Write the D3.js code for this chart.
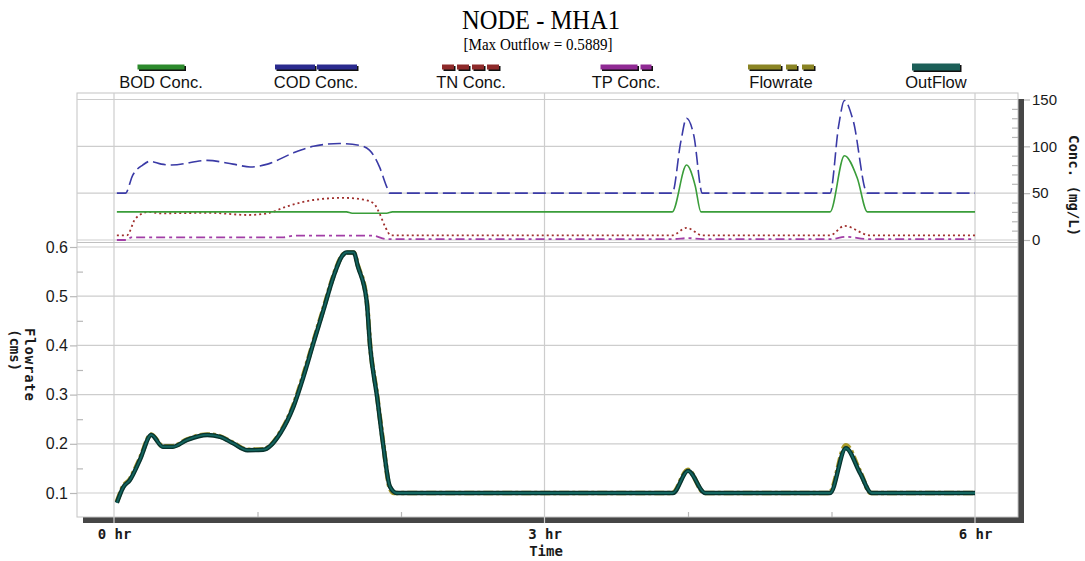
<!DOCTYPE html>
<html>
<head>
<meta charset="utf-8">
<script src="https://cdn.jsdelivr.net/npm/d3@7/dist/d3.min.js"></script>
<style>
  body { margin: 0; background: #fff; }
  svg { display: block; }
</style>
</head>
<body>
<svg id="chart" width="1085" height="561"></svg>
<script>
// ---- data ----
const chartTitle = "NODE - MHA1";
const chartSubtitle = "[Max Outflow = 0.5889]";
const seriesNames = ["BOD Conc.", "COD Conc.", "TN Conc.", "TP Conc.", "Flowrate", "OutFlow"];
const hourTicks = [0, 3, 6];
const hourMinorTicks = [1, 2, 4, 5];
const concTicks = [0, 50, 100, 150];
const concMinorTicks = [10, 20, 30, 40, 60, 70, 80, 90, 110, 120, 130, 140];
const flowTicks = [0.1, 0.2, 0.3, 0.4, 0.5, 0.6];
const flowMinorTicks = [0.15, 0.25, 0.35, 0.45, 0.55];

// [hour, mg/L]
const bodConc = [[0.02, 30], [1.62, 30], [1.66, 28.5], [1.9, 28.5], [1.94, 30], [3.89, 30],
  [3.99, 80], [4.05, 58], [4.09, 30], [4.99, 30], [5.09, 90], [5.18, 66], [5.25, 30], [6, 30]];
const codConc = [[0.02, 50], [0.08, 50], [0.13, 69], [0.2, 80], [0.25, 84], [0.33, 81], [0.4, 80],
  [0.65, 85], [0.83, 81], [0.95, 78], [1.07, 81], [1.25, 93], [1.39, 100], [1.57, 103], [1.71, 101],
  [1.78, 96], [1.85, 78], [1.9, 57], [1.92, 50], [3.89, 50], [3.95, 105], [3.99, 130], [4.04, 112],
  [4.1, 50], [4.99, 50], [5.05, 122], [5.09, 149], [5.15, 128], [5.25, 50], [6, 50]];
const tnConc = [[0.02, 5], [0.09, 5], [0.15, 23], [0.24, 30], [0.32, 28.5], [0.67, 29], [0.93, 26.7],
  [1.07, 28.5], [1.2, 35.6], [1.39, 42.7], [1.6, 45], [1.74, 43], [1.81, 39], [1.85, 28.5], [1.89, 14],
  [1.93, 5], [3.89, 5], [3.99, 13], [4.1, 5], [4.99, 5], [5.09, 15], [5.27, 5], [6, 5]];
const tpConc = [[0.02, 0], [0.09, 0], [0.12, 2.8], [1.18, 2.8], [1.25, 4.6], [1.8, 4.6], [1.9, 1],
  [3.9, 1], [4.0, 2], [4.1, 1], [5.0, 1], [5.1, 3.5], [5.25, 1], [6, 1]];

// [hour, cms]
const outFlow = [[0.02, 0.08], [0.065, 0.112], [0.11, 0.126], [0.18, 0.167], [0.26, 0.218], [0.34, 0.194],
  [0.41, 0.194], [0.51, 0.208], [0.65, 0.218], [0.74, 0.214], [0.83, 0.201], [0.93, 0.187], [1.04, 0.188],
  [1.16, 0.222], [1.25, 0.275], [1.32, 0.336], [1.39, 0.405], [1.46, 0.472], [1.53, 0.54], [1.59, 0.582],
  [1.62, 0.5889], [1.67, 0.5889], [1.7, 0.56], [1.76, 0.492], [1.785, 0.397], [1.833, 0.296],
  [1.875, 0.2], [1.923, 0.113], [1.97, 0.1], [3.895, 0.1], [4.0, 0.145], [4.12, 0.1], [4.99, 0.1],
  [5.1, 0.191], [5.2, 0.14], [5.28, 0.1], [6, 0.1]];
const flowrate = [[0.02, 0.082], [0.065, 0.114], [0.11, 0.128], [0.18, 0.17], [0.26, 0.219], [0.34, 0.195],
  [0.41, 0.195], [0.51, 0.209], [0.65, 0.219], [0.74, 0.215], [0.83, 0.202], [0.93, 0.188], [1.04, 0.189],
  [1.16, 0.224], [1.25, 0.278], [1.32, 0.34], [1.39, 0.408], [1.46, 0.475], [1.53, 0.542], [1.59, 0.583],
  [1.62, 0.5889], [1.67, 0.5889], [1.7, 0.562], [1.76, 0.494], [1.785, 0.4], [1.833, 0.299],
  [1.875, 0.203], [1.92, 0.112], [1.95, 0.1], [3.89, 0.1], [4.0, 0.147], [4.115, 0.1], [4.985, 0.1],
  [5.1, 0.197], [5.2, 0.143], [5.275, 0.1], [6, 0.1]];

// ---- layout ----
const plot = { left: 77, top: 93, right: 1018, bottom: 517, split: 242.5 };
const shadow = 6;
const gridColor = "#cdcdcd";
const monoFont = "'DejaVu Sans Mono', monospace";
const sansFont = "'Liberation Sans', Arial, sans-serif";
const serifFont = "'Liberation Serif', 'Times New Roman', serif";

const svg = d3.select("#chart");

const x = d3.scaleLinear().domain([0, 6]).range([114, 975]);
const yConc = d3.scaleLinear().domain([0, 150]).range([240, 99.5]);
const yFlow = d3.scaleLinear().domain([0.1, 0.6]).range([493, 247]);

// Title block
svg.append("text")
  .attr("x", 541).attr("y", 29)
  .attr("text-anchor", "middle")
  .attr("font-family", serifFont).attr("font-size", 27)
  .attr("textLength", 158).attr("lengthAdjust", "spacingAndGlyphs")
  .text(chartTitle);
svg.append("text")
  .attr("x", 538).attr("y", 50)
  .attr("text-anchor", "middle")
  .attr("font-family", serifFont).attr("font-size", 16)
  .attr("textLength", 149).attr("lengthAdjust", "spacingAndGlyphs")
  .text(chartSubtitle);

// Frame with the dark drop shadow (right and bottom)
svg.append("rect")
  .attr("x", plot.left + shadow).attr("y", plot.top + shadow)
  .attr("width", plot.right - plot.left).attr("height", plot.bottom - plot.top)
  .attr("fill", "#464646");
svg.append("rect")
  .attr("x", plot.left).attr("y", plot.top)
  .attr("width", plot.right - plot.left).attr("height", plot.bottom - plot.top)
  .attr("fill", "#fff").attr("stroke", "#c4c4c4");

// Gridlines
const grid = svg.append("g").attr("stroke", gridColor).attr("stroke-width", 1.2);
grid.selectAll(".gv").data(hourTicks).join("line")
  .attr("x1", d => x(d)).attr("x2", d => x(d))
  .attr("y1", plot.top).attr("y2", plot.bottom + shadow);
grid.selectAll(".gc").data(concTicks).join("line")
  .attr("x1", plot.left).attr("x2", plot.right)
  .attr("y1", d => yConc(d)).attr("y2", d => yConc(d));
grid.selectAll(".gf").data(flowTicks).join("line")
  .attr("x1", plot.left).attr("x2", plot.right)
  .attr("y1", d => yFlow(d)).attr("y2", d => yFlow(d));
grid.append("line")
  .attr("x1", plot.left).attr("x2", plot.right)
  .attr("y1", plot.split).attr("y2", plot.split)
  .attr("stroke", "#c0c0c0");

function styleAxis(g, font, size, weight) {
  g.select(".domain").remove();
  g.selectAll("line").attr("stroke", "#b8b8b8").attr("stroke-width", 1.2);
  g.selectAll("text").attr("font-family", font).attr("font-size", size)
    .attr("font-weight", weight || "normal").attr("fill", "#1a1a1a");
}

// Left flow axis
svg.append("g").attr("transform", `translate(${plot.left},0)`)
  .call(d3.axisLeft(yFlow).tickValues(flowTicks).tickFormat(d3.format(".1f")).tickSize(7).tickPadding(2))
  .call(g => styleAxis(g, sansFont, 16));
svg.append("g").attr("transform", `translate(${plot.left},0)`)
  .call(d3.axisRight(yFlow).tickValues(flowMinorTicks).tickFormat("").tickSize(6))
  .call(g => styleAxis(g, sansFont, 16));

// Right concentration axis
svg.append("g").attr("transform", `translate(${plot.right + shadow},0)`)
  .call(d3.axisRight(yConc).tickValues(concTicks).tickSize(6).tickPadding(2))
  .call(g => styleAxis(g, sansFont, 15));
svg.append("g").attr("transform", `translate(${plot.right},0)`)
  .call(d3.axisLeft(yConc).tickValues(concMinorTicks).tickFormat("").tickSize(6))
  .call(g => styleAxis(g, sansFont, 15));

// Bottom time axis
svg.append("g").attr("transform", `translate(0,${plot.bottom + shadow})`)
  .call(d3.axisBottom(x).tickValues(hourTicks).tickFormat(d => d + " hr").tickSize(0).tickPadding(6))
  .call(g => styleAxis(g, monoFont, 14, "bold"));
svg.append("g").attr("transform", `translate(0,${plot.bottom})`)
  .call(d3.axisTop(x).tickValues(hourMinorTicks).tickFormat("").tickSize(5))
  .call(g => styleAxis(g, monoFont, 13));

// Axis titles
svg.append("text")
  .attr("transform", `translate(546,556)`)
  .attr("text-anchor", "middle")
  .attr("font-family", monoFont).attr("font-size", 14).attr("font-weight", "bold").attr("fill", "#1a1a1a")
  .text("Time");
svg.append("text")
  .attr("transform", "translate(25,328) rotate(90)")
  .attr("font-family", monoFont).attr("font-size", 14).attr("font-weight", "bold")
  .attr("letter-spacing", 0.8).attr("fill", "#1a1a1a")
  .text("Flowrate");
svg.append("text")
  .attr("transform", "translate(10,329) rotate(90)")
  .attr("font-family", monoFont).attr("font-size", 14).attr("font-weight", "bold").attr("fill", "#1a1a1a")
  .text("(cms)");
svg.append("text")
  .attr("transform", "translate(1069,135) rotate(90)")
  .attr("font-family", monoFont).attr("font-size", 14).attr("font-weight", "bold").attr("fill", "#1a1a1a")
  .text("Conc. (mg/L)");

// Clip regions for the two panels
const defs = svg.append("defs");
defs.append("clipPath").attr("id", "clipTop").append("rect")
  .attr("x", plot.left).attr("y", plot.top)
  .attr("width", plot.right - plot.left).attr("height", plot.split - plot.top);
defs.append("clipPath").attr("id", "clipBottom").append("rect")
  .attr("x", plot.left).attr("y", plot.split)
  .attr("width", plot.right - plot.left).attr("height", plot.bottom - plot.split);

// Concentration lines (top panel)
const concLine = d3.line().x(d => x(d[0])).y(d => yConc(d[1])).curve(d3.curveMonotoneX);
const concSeries = [
  { data: tpConc, color: "#a23ea6", width: 1.8, dash: "9,4,3,4" },
  { data: tnConc, color: "#a0302e", width: 1.8, dash: "2,3" },
  { data: bodConc, color: "#3a9d3a", width: 1.6, dash: null },
  { data: codConc, color: "#3a3aa6", width: 1.6, dash: "13,5" }
];
const topG = svg.append("g").attr("clip-path", "url(#clipTop)");
topG.selectAll("path").data(concSeries).join("path")
  .attr("d", d => concLine(d.data))
  .attr("fill", "none")
  .attr("stroke", d => d.color)
  .attr("stroke-width", d => d.width)
  .attr("stroke-dasharray", d => d.dash);

// Flow lines (bottom panel)
const flowLine = d3.line().x(d => x(d[0])).y(d => yFlow(d[1])).curve(d3.curveMonotoneX);
const bottomG = svg.append("g").attr("clip-path", "url(#clipBottom)");
bottomG.append("path").attr("d", flowLine(flowrate))
  .attr("fill", "none").attr("stroke", "#a89a2a").attr("stroke-width", 4.6)
  .attr("stroke-dasharray", "10,3,3,3");
bottomG.append("path").attr("d", flowLine(outFlow))
  .attr("fill", "none").attr("stroke", "#07332f").attr("stroke-width", 4.4)
  .attr("stroke-linejoin", "round");
bottomG.append("path").attr("d", flowLine(outFlow))
  .attr("fill", "none").attr("stroke", "#14665f").attr("stroke-width", 1.8)
  .attr("stroke-linejoin", "round");

// Legend
const legendItems = [
  { color: "#2c8a2c", len: 47, dash: null, h: 5 },
  { color: "#2a2a8e", len: 82, dash: "40,2", h: 5 },
  { color: "#8e2a2a", len: 58, dash: "12,3", h: 5 },
  { color: "#902a94", len: 51, dash: "37,3,11", h: 5 },
  { color: "#8a8424", len: 66, dash: "33,5,11,5,12", h: 5 },
  { color: "#1b5f58", len: 48, dash: null, h: 7 }
];
const legendX = d3.scalePoint().domain(seriesNames).range([161, 936]);
const legend = svg.append("g");
const li = legend.selectAll("g").data(seriesNames).join("g")
  .attr("transform", d => `translate(${legendX(d)},0)`);
li.append("line")
  .attr("x1", (d, i) => -legendItems[i].len / 2 + 1.5).attr("x2", (d, i) => legendItems[i].len / 2 + 1.5)
  .attr("y1", 68.5).attr("y2", 68.5)
  .attr("stroke", "#111").attr("stroke-width", (d, i) => legendItems[i].h)
  .attr("stroke-dasharray", (d, i) => legendItems[i].dash);
li.append("line")
  .attr("x1", (d, i) => -legendItems[i].len / 2).attr("x2", (d, i) => legendItems[i].len / 2)
  .attr("y1", 67).attr("y2", 67)
  .attr("stroke", (d, i) => legendItems[i].color).attr("stroke-width", (d, i) => legendItems[i].h)
  .attr("stroke-dasharray", (d, i) => legendItems[i].dash);
li.append("text")
  .attr("y", 88)
  .attr("text-anchor", "middle")
  .attr("font-family", sansFont).attr("font-size", 16.5).attr("fill", "#111")
  .text(d => d);
</script>
</body>
</html>
